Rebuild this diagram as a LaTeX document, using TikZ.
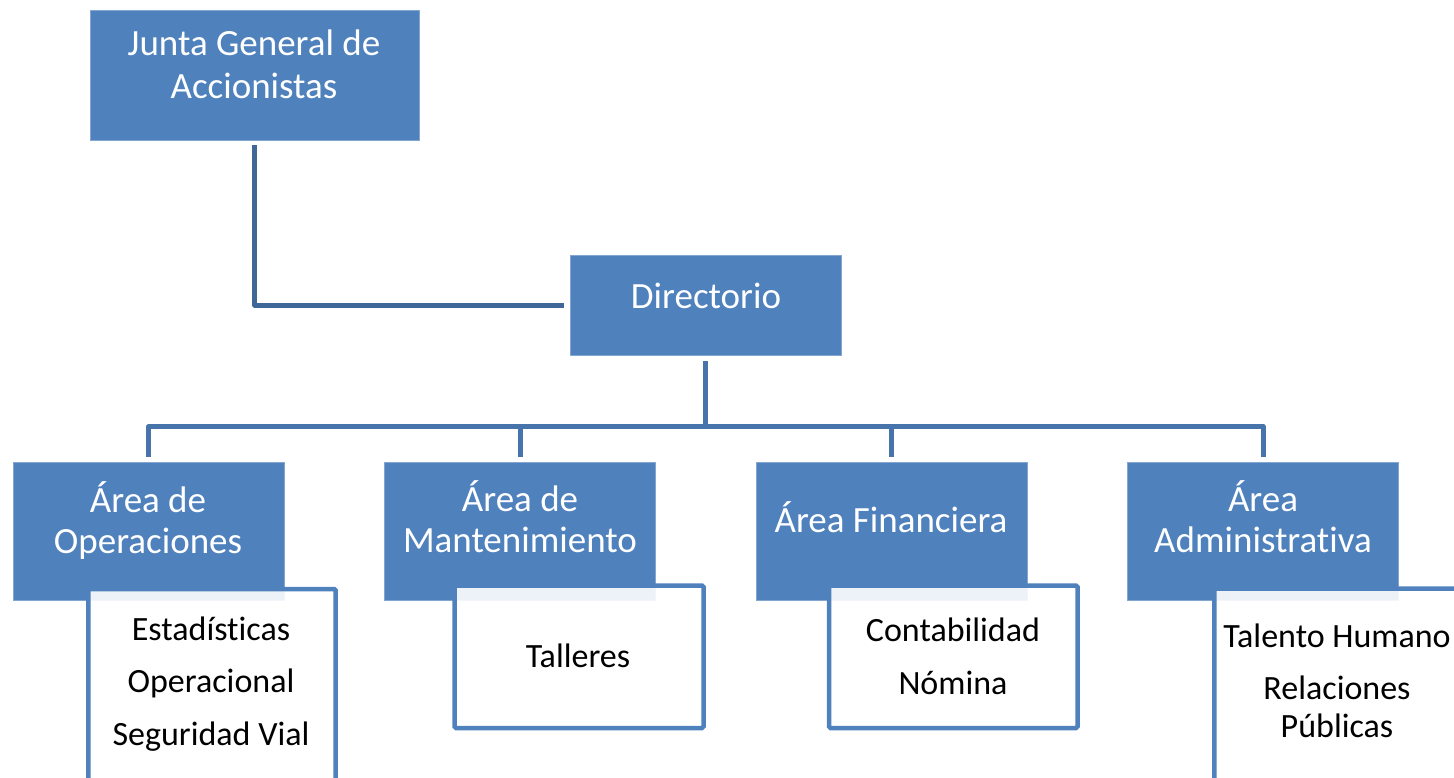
\documentclass[tikz,border=0pt]{standalone}
\usepackage{fontspec}
\setmainfont{Carlito}[Ligatures={NoCommon}]
\definecolor{boxblue}{HTML}{4F81BD}
\definecolor{connA}{HTML}{3F6797}
\definecolor{connB}{HTML}{4874AC}
\begin{document}
\begin{tikzpicture}[x=1pt,y=-1pt,
  bluebox/.style={rectangle, fill=boxblue, draw=boxblue!70!white, line width=0.6pt, inner sep=0pt, minimum width=271.4pt, minimum height=137.3pt},
  childbox/.style={rectangle, draw=boxblue, line width=4.5pt, fill=white, fill opacity=0.9, rounded corners=1.5pt, inner sep=0pt},
  bluetxt/.style={anchor=south, text depth=0pt, inner sep=0pt, align=center, text=white, font=\fontsize{37}{41}\selectfont},
  childtxt/.style={anchor=south, text depth=0pt, inner sep=0pt, align=center, text=black, font=\fontsize{34}{37.5}\selectfont},
  linkA/.style={draw=connA, line width=5pt, line join=round},
  linkB/.style={draw=connB, line width=5pt, line join=round}]
\useasboundingbox (0,0) rectangle (1454,777);
\clip (0,0) rectangle (1454,777);

% blue boxes
\node[bluebox, minimum width=329.3pt, minimum height=129.3pt] (junta) at (254.65,75.35) {};
\node[bluebox, minimum width=271pt, minimum height=100pt] (dir) at (705.5,305) {};
\node[bluebox] (op)  at (148.65,531.35) {};
\node[bluebox] (man) at (520,531.35) {};
\node[bluebox] (fin) at (891.65,531.35) {};
\node[bluebox] (adm) at (1263,531.35) {};

% connectors
\coordinate (bus) at (706,426.5);
\draw[linkA] ([yshift=-5pt]junta.south) |- ([xshift=-6pt]dir.west);
\foreach \c in {op,man,fin,adm}
  \draw[linkB] ([yshift=-6pt]dir.south) |- (bus -| \c.north) -- ([yshift=5pt]\c.north);

% child boxes
\node[childbox, minimum width=247.4pt, minimum height=231pt] (opc)  at (212,704.5) {};
\node[childbox, minimum width=249pt, minimum height=142.5pt] (manc) at (579,656.75) {};
\node[childbox, minimum width=248.5pt, minimum height=142.5pt] (finc) at (953.25,656.75) {};
\node[childbox, minimum width=249.7pt, minimum height=231.5pt] (admc) at (1339.15,704.25) {};

% texts
\node[bluetxt, font=\fontsize{37}{43}\selectfont] (juntaT) at (254,98.5) {Junta General de\\Accionistas};
\node[bluetxt] (dirT) at (706,308.5) {Directorio};
\node[bluetxt] (opT)  at (148,553.5) {Área de\\Operaciones};
\node[bluetxt] (manT) at (520,552.5) {Área de\\Mantenimiento};
\node[bluetxt] (finT) at (891,532.5) {Área Financiera};
\node[bluetxt] (admT) at (1263,552.5) {Área\\Administrativa};

\node[childtxt] (opL)  at (211,745.5) {Estadísticas\\[15pt]Operacional\\[15pt]Seguridad Vial};
\node[childtxt] (manL) at (578,667.5) {Talleres};
\node[childtxt] (finL) at (953,694.5) {Contabilidad\\[15pt]Nómina};
\node[childtxt] (admL) at (1337,737.5) {Talento Humano\\[15pt]Relaciones\\Públicas};
\end{tikzpicture}
\end{document}
